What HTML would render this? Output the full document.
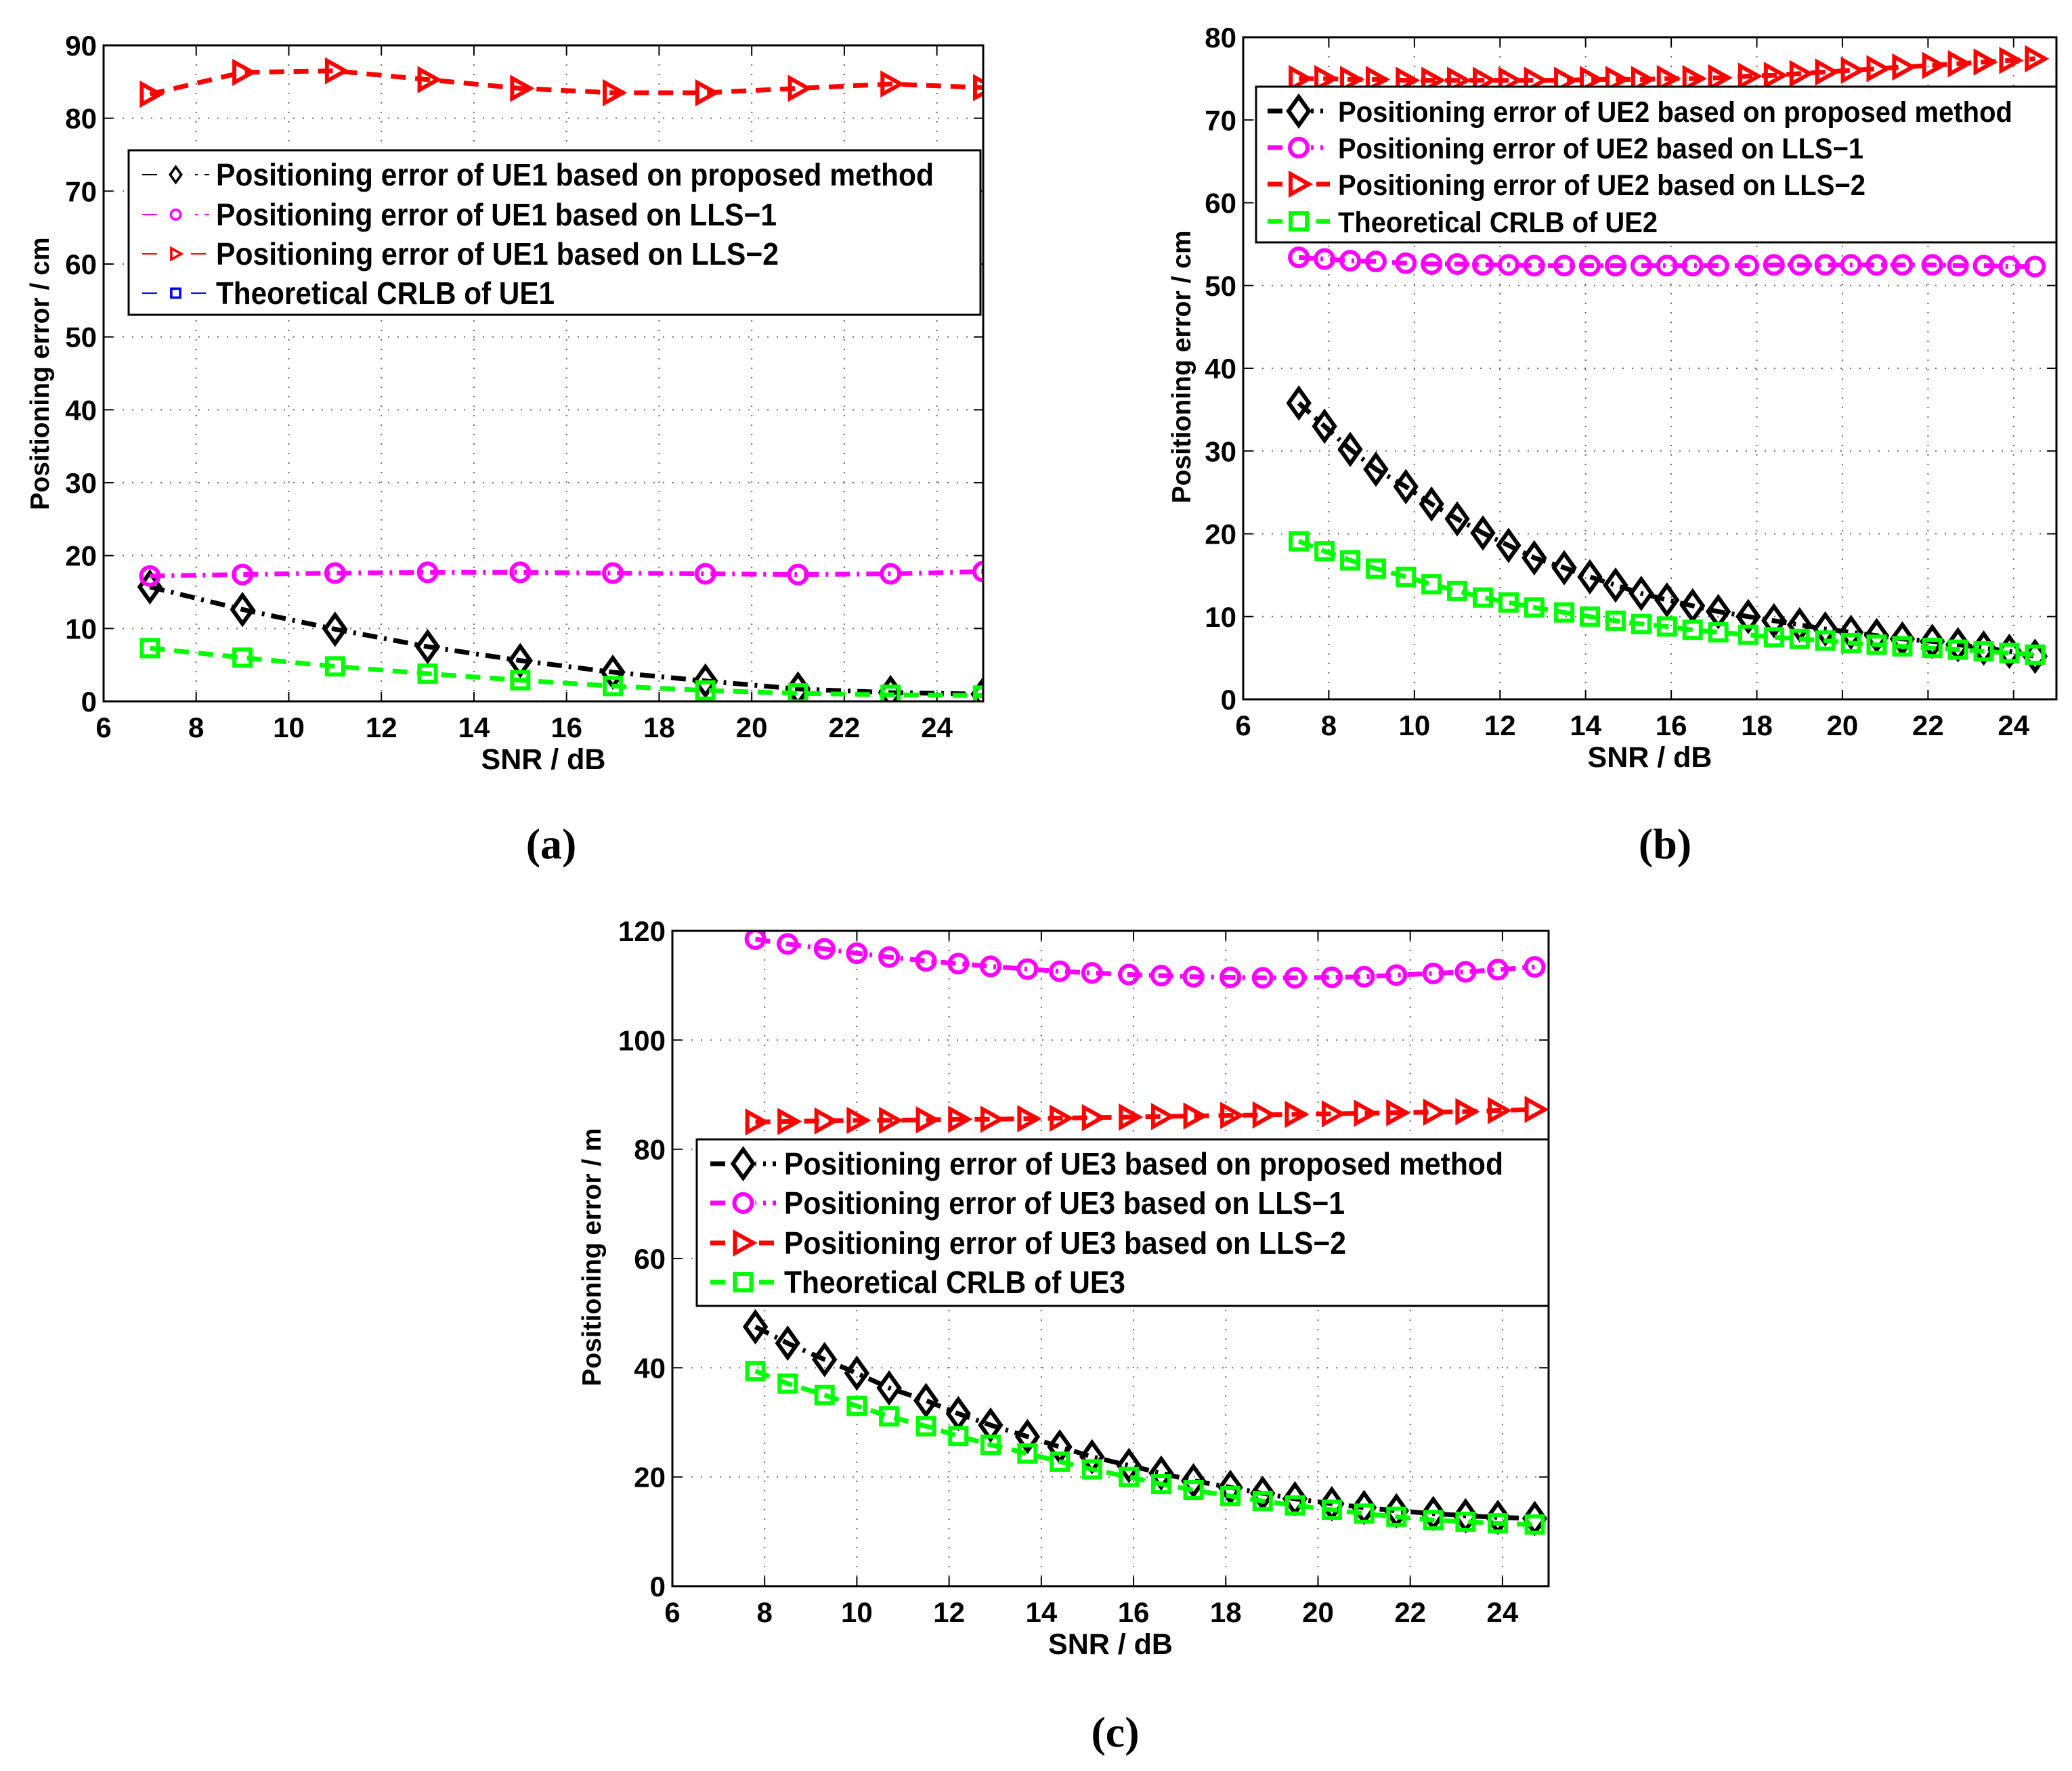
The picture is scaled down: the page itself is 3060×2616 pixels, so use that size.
<!DOCTYPE html>
<html><head><meta charset="utf-8"><style>
html,body{margin:0;padding:0;background:#fff;}
svg{display:block;}
text{font-family:"Liberation Sans",sans-serif;}
</style></head><body>
<svg id="fig" width="3060" height="2616" viewBox="0 0 3060 2616" xmlns="http://www.w3.org/2000/svg">
<rect width="3060" height="2616" fill="#fff"/>
<text x="814" y="1268" style="font-family:'Liberation Serif',serif;font-weight:bold" font-size="64" text-anchor="middle">(a)</text>
<text x="2459" y="1268" style="font-family:'Liberation Serif',serif;font-weight:bold" font-size="64" text-anchor="middle">(b)</text>
<text x="1647" y="2580" style="font-family:'Liberation Serif',serif;font-weight:bold" font-size="64" text-anchor="middle">(c)</text>
</svg>
<script>
// ---- Panel (a) data ----
const xA = [7, 9, 11, 13, 15, 17, 19, 21, 23, 25];
const propA = [15.7, 12.6, 9.9, 7.5, 5.6, 4.0, 2.8, 1.7, 1.2, 1.0];
const lls1A = [17.2, 17.4, 17.6, 17.7, 17.7, 17.6, 17.5, 17.4, 17.5, 17.8];
const lls2A = [83.3, 86.3, 86.5, 85.3, 84.1, 83.5, 83.5, 84.1, 84.7, 84.2];
const crlbA = [7.3, 6.0, 4.8, 3.8, 2.9, 2.1, 1.5, 1.1, 0.9, 0.8];
const yTicksA = [0, 10, 20, 30, 40, 50, 60, 70, 80, 90];
// ---- Panel (b) data ----
const xB = [7.3, 7.9, 8.5, 9.1, 9.8, 10.4, 11.0, 11.6, 12.2, 12.8, 13.5, 14.1, 14.7, 15.3, 15.9, 16.5, 17.1, 17.8, 18.4, 19.0, 19.6, 20.2, 20.8, 21.4, 22.1, 22.7, 23.3, 23.9, 24.5];
const propB = [35.8, 33.0, 30.2, 27.8, 25.7, 23.6, 21.8, 20.1, 18.6, 17.1, 15.9, 14.8, 13.8, 12.8, 12.0, 11.3, 10.6, 10.0, 9.5, 9.0, 8.5, 8.1, 7.7, 7.3, 7.0, 6.6, 6.2, 5.8, 5.2];
const lls1B = [53.4, 53.2, 53.0, 52.9, 52.7, 52.6, 52.6, 52.5, 52.5, 52.4, 52.4, 52.4, 52.4, 52.4, 52.4, 52.4, 52.4, 52.4, 52.5, 52.5, 52.5, 52.5, 52.5, 52.5, 52.5, 52.4, 52.4, 52.3, 52.3];
const lls2B = [75.0, 75.0, 74.9, 74.9, 74.8, 74.8, 74.8, 74.8, 74.8, 74.8, 74.8, 74.9, 74.9, 74.9, 75.0, 75.0, 75.1, 75.3, 75.4, 75.6, 75.8, 76.0, 76.2, 76.4, 76.6, 76.8, 77.0, 77.2, 77.4];
const crlbB = [19.1, 17.9, 16.8, 15.8, 14.8, 13.9, 13.1, 12.3, 11.7, 11.1, 10.5, 10.0, 9.5, 9.1, 8.8, 8.4, 8.1, 7.8, 7.5, 7.3, 7.1, 6.8, 6.6, 6.4, 6.2, 6.0, 5.8, 5.6, 5.4];
const yTicksB = [0, 10, 20, 30, 40, 50, 60, 70, 80];
// ---- Panel (c) data ----
const xC = [7.8, 8.5, 9.3, 10.0, 10.7, 11.5, 12.2, 12.9, 13.7, 14.4, 15.1, 15.9, 16.6, 17.3, 18.1, 18.8, 19.5, 20.3, 21.0, 21.7, 22.5, 23.2, 23.9, 24.7];
const propC = [47.5, 44.5, 41.5, 39.0, 36.3, 34.0, 31.6, 29.5, 27.4, 25.5, 23.7, 22.1, 20.7, 19.3, 18.1, 17.0, 16.0, 15.1, 14.4, 13.8, 13.3, 12.9, 12.6, 12.4];
const lls1C = [118.5, 117.6, 116.7, 115.9, 115.2, 114.5, 114.0, 113.5, 113.0, 112.6, 112.3, 112.0, 111.8, 111.6, 111.5, 111.4, 111.4, 111.5, 111.6, 111.9, 112.2, 112.5, 112.9, 113.4];
const lls2C = [85.0, 85.1, 85.2, 85.3, 85.3, 85.4, 85.5, 85.5, 85.6, 85.7, 85.8, 85.9, 86.0, 86.1, 86.2, 86.3, 86.4, 86.5, 86.6, 86.7, 86.8, 86.9, 87.1, 87.3];
const crlbC = [39.4, 37.1, 35.0, 33.0, 31.1, 29.3, 27.5, 25.9, 24.3, 22.8, 21.4, 20.0, 18.7, 17.6, 16.5, 15.6, 14.8, 14.0, 13.3, 12.7, 12.1, 11.8, 11.5, 11.3];
const yTicksC = [0, 20, 40, 60, 80, 100, 120];
const xTicks = [6, 8, 10, 12, 14, 16, 18, 20, 22, 24];

const NS = 'http://www.w3.org/2000/svg';
const svg = document.getElementById('fig');
function mk(tag, attrs, parent) {
  const e = document.createElementNS(NS, tag);
  for (const k in attrs) e.setAttribute(k, attrs[k]);
  (parent || svg).appendChild(e);
  return e;
}
function marker(g, type, x, y, color, s) {
  let e;
  const sw = 6 * Math.max(s, 0.6);
  if (type === 'diamond') {
    e = mk('polygon', {points: `${x},${y-21*s} ${x+15*s},${y} ${x},${y+21*s} ${x-15*s},${y}`, fill: 'none', stroke: color, 'stroke-width': sw}, g);
  } else if (type === 'circle') {
    e = mk('circle', {cx: x, cy: y, r: 13*s, fill: 'none', stroke: color, 'stroke-width': sw}, g);
  } else if (type === 'tri') {
    e = mk('polygon', {points: `${x-12*s},${y-15*s} ${x+15*s},${y} ${x-12*s},${y+15*s}`, fill: 'none', stroke: color, 'stroke-width': sw}, g);
  } else {
    e = mk('rect', {x: x-12*s, y: y-12*s, width: 24*s, height: 24*s, fill: 'none', stroke: color, 'stroke-width': sw}, g);
  }
  return e;
}

function drawPanel(p) {
  const g = mk('g', {});
  
  
  const L = p.L, R = p.R, T = p.T, B = p.B;
  const ymax = p.yTicks[p.yTicks.length - 1];
  const sx = v => L + (v - 6) / 19 * (R - L);
  const sy = v => B - v / ymax * (B - T);
  const clipId = p.name + '-clip';
  const cp = mk('clipPath', {id: clipId}, g);
  mk('rect', {x: L, y: T, width: R - L, height: B - T}, cp);
  const grid = mk('g', {stroke: '#666', 'stroke-width': 2, 'stroke-dasharray': '2 12'}, g);
  
  
  xTicks.forEach(t => { if (t > 6) mk('line', {x1: sx(t), x2: sx(t), y1: T, y2: B}, grid); });
  p.yTicks.forEach(t => { if (t > 0 && t < ymax) mk('line', {x1: L, x2: R, y1: sy(t), y2: sy(t)}, grid); });
  const tk = mk('g', {stroke: '#000', 'stroke-width': 2}, g);
  xTicks.forEach(t => { mk('line', {x1: sx(t), x2: sx(t), y1: B, y2: B - 14}, tk); mk('line', {x1: sx(t), x2: sx(t), y1: T, y2: T + 14}, tk); });
  p.yTicks.forEach(t => { mk('line', {x1: L, x2: L + 14, y1: sy(t), y2: sy(t)}, tk); mk('line', {x1: R, x2: R - 14, y1: sy(t), y2: sy(t)}, tk); });
  xTicks.forEach(t => {
    const e = mk('text', {x: sx(t), y: B + 53, 'font-size': 42, 'font-weight': 'bold', 'text-anchor': 'middle'}, g);
    e.textContent = t;
    
    
  });
  p.yTicks.forEach(t => {
    const e = mk('text', {x: L - 10, y: sy(t) + 15, 'font-size': 42, 'font-weight': 'bold', 'text-anchor': 'end'}, g);
    e.textContent = t;
    
    
  });
  const xt = mk('text', {x: (L + R) / 2, y: B + 100, 'font-size': 43, 'font-weight': 'bold', 'text-anchor': 'middle'}, g);
  xt.textContent = 'SNR / dB';
  
  
  const yt = mk('text', {x: 0, y: 0, 'font-size': 39, 'font-weight': 'bold', 'text-anchor': 'middle', transform: `translate(${p.ylx},${p.yly}) rotate(-90)`}, g);
  yt.textContent = p.ylabel;
  
  
  const plot = mk('g', {'clip-path': `url(#${clipId})`}, g);
  p.series.forEach(s => {
    const sg = mk('g', {}, plot);
    
    
    const pts = s.x.map((v, i) => `${sx(v)},${sy(s.y[i])}`).join(' ');
    mk('polyline', {points: pts, fill: 'none', stroke: s.color, 'stroke-width': 7, 'stroke-dasharray': s.dash}, sg);
    s.x.forEach((v, i) => {
      const m = marker(sg, s.m, sx(v), sy(s.y[i]), s.color, 1);
      
      
    });
  });
  mk('rect', {x: L, y: T, width: R - L, height: B - T, fill: 'none', stroke: '#000', 'stroke-width': 3}, g);
  const lg = mk('g', {}, g);
  
  
  const lgd = p.legend;
  mk('rect', {x: lgd.x, y: lgd.y, width: lgd.w, height: lgd.h, fill: '#fff', stroke: '#000', 'stroke-width': 3}, lg);
  p.series.forEach((s, i) => {
    const eg = mk('g', {}, lg);
    
    
    const cy = lgd.rows[i];
    const lc = lgd.colors ? lgd.colors[i] : s.color;
    const lw = lgd.thin ? 2 : 7;
    mk('line', {x1: lgd.lx1, x2: lgd.lx2, y1: cy, y2: cy, stroke: lc, 'stroke-width': lw, 'stroke-dasharray': s.dash}, eg);
    mk('rect', {x: (lgd.lx1 + lgd.lx2) / 2 - 18, y: cy - 24, width: 36, height: 48, fill: '#fff'}, eg);
    marker(eg, s.m, (lgd.lx1 + lgd.lx2) / 2, cy, lc, lgd.thin ? 0.55 : 1);
    const t = mk('text', {x: lgd.tx, y: cy + 16, 'font-size': lgd.fs, 'font-weight': 'bold', textLength: lgd.tw[i], lengthAdjust: 'spacingAndGlyphs'}, eg);
    t.textContent = s.label;
  });
}

drawPanel({
  name: 'chart-a', L: 153, R: 1452, T: 67, B: 1036, yTicks: yTicksA,
  ylabel: 'Positioning error / cm', ylx: 72, yly: 552,
  series: [
    {id: 'series-proposed-ue1', x: xA, y: propA, color: '#000', dash: '22 10 4 10', m: 'diamond', label: 'Positioning error of UE1 based on proposed method'},
    {id: 'series-lls1-ue1', x: xA, y: lls1A, color: '#ff00ff', dash: '22 10 4 10', m: 'circle', label: 'Positioning error of UE1 based on LLS\u22121'},
    {id: 'series-lls2-ue1', x: xA, y: lls2A, color: '#ff0000', dash: '22 14', m: 'tri', label: 'Positioning error of UE1 based on LLS\u22122'},
    {id: 'series-crlb-ue1', x: xA, y: crlbA, color: '#00ff00', dash: '22 14', m: 'square', label: 'Theoretical CRLB of UE1'}
  ],
  legend: {x: 190, y: 222, w: 1258, h: 243, rows: [258, 317, 375, 433], lx1: 210, lx2: 309, tx: 319, fs: 46,
    tw: [1060, 828, 831, 500], thin: true, colors: ['#000', '#ff00ff', '#ff0000', '#0000ff']}
});
drawPanel({
  name: 'chart-b', L: 1836, R: 3037, T: 55, B: 1033, yTicks: yTicksB,
  ylabel: 'Positioning error / cm', ylx: 1758, yly: 542,
  series: [
    {id: 'series-proposed-ue2', x: xB, y: propB, color: '#000', dash: '22 10 4 10', m: 'diamond', label: 'Positioning error of UE2 based on proposed method'},
    {id: 'series-lls1-ue2', x: xB, y: lls1B, color: '#ff00ff', dash: '22 10 4 10', m: 'circle', label: 'Positioning error of UE2 based on LLS\u22121'},
    {id: 'series-lls2-ue2', x: xB, y: lls2B, color: '#ff0000', dash: '22 14', m: 'tri', label: 'Positioning error of UE2 based on LLS\u22122'},
    {id: 'series-crlb-ue2', x: xB, y: crlbB, color: '#00ff00', dash: '22 14', m: 'square', label: 'Theoretical CRLB of UE2'}
  ],
  legend: {x: 1855, y: 128, w: 1182, h: 230, rows: [164, 218, 272, 327], lx1: 1872, lx2: 1964, tx: 1976, fs: 43,
    tw: [996, 776, 779, 472]}
});
drawPanel({
  name: 'chart-c', L: 993, R: 2287, T: 1375, B: 2343, yTicks: yTicksC,
  ylabel: 'Positioning error / m', ylx: 887, yly: 1857,
  series: [
    {id: 'series-proposed-ue3', x: xC, y: propC, color: '#000', dash: '22 10 4 10', m: 'diamond', label: 'Positioning error of UE3 based on proposed method'},
    {id: 'series-lls1-ue3', x: xC, y: lls1C, color: '#ff00ff', dash: '22 10 4 10', m: 'circle', label: 'Positioning error of UE3 based on LLS\u22121'},
    {id: 'series-lls2-ue3', x: xC, y: lls2C, color: '#ff0000', dash: '22 14', m: 'tri', label: 'Positioning error of UE3 based on LLS\u22122'},
    {id: 'series-crlb-ue3', x: xC, y: crlbC, color: '#00ff00', dash: '22 14', m: 'square', label: 'Theoretical CRLB of UE3'}
  ],
  legend: {x: 1029, y: 1683, w: 1258, h: 246, rows: [1719, 1777, 1836, 1894], lx1: 1049, lx2: 1146, tx: 1158, fs: 46,
    tw: [1062, 828, 830, 504]}
});
</script>
</body></html>
